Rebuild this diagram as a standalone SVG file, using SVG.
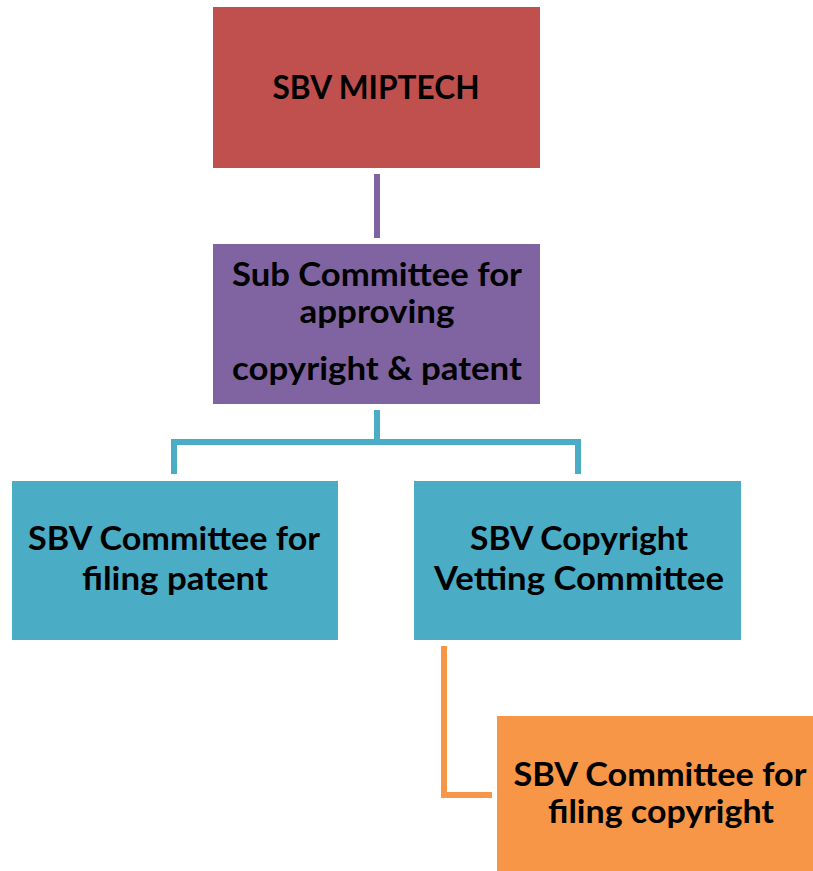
<svg xmlns="http://www.w3.org/2000/svg" width="813" height="871" viewBox="0 0 813 871">
<style>
text{font-family:Lato,"Liberation Sans",sans-serif;font-weight:bold;font-size:33px;fill:#000;text-anchor:middle}
.c{fill:none;stroke-width:6;stroke-linejoin:miter}
</style>
<rect width="813" height="871" fill="#fff"/>
<g id="connectors">
<line class="c" x1="377" y1="174" x2="377" y2="238" stroke="#8064A2"/>
<polyline class="c" points="377,410 377,442 174,442 174,474" stroke="#4BACC6"/>
<polyline class="c" points="377,442 578,442 578,474" stroke="#4BACC6"/>
<polyline class="c" points="444,646 444,795 492,795" stroke="#F79646"/>
</g>
<g id="n1">
<rect x="213" y="7" width="327" height="161" fill="#C0504D"/>
<text x="376" y="99" textLength="207" lengthAdjust="spacingAndGlyphs">SBV MIPTECH</text>
</g>
<g id="n2">
<rect x="213" y="244" width="327" height="160" fill="#8064A2"/>
<text x="377" y="286" textLength="290" lengthAdjust="spacingAndGlyphs">Sub Committee for</text>
<text x="377" y="323" textLength="155" lengthAdjust="spacingAndGlyphs">approving</text>
<text x="377" y="380" textLength="290" lengthAdjust="spacingAndGlyphs">copyright &amp; patent</text>
</g>
<g id="n3">
<rect x="12" y="481" width="326" height="159" fill="#4BACC6"/>
<text x="174" y="550" textLength="292" lengthAdjust="spacingAndGlyphs">SBV Committee for</text>
<text x="175" y="590" textLength="186" lengthAdjust="spacingAndGlyphs">filing patent</text>
</g>
<g id="n4">
<rect x="414" y="481" width="327" height="159" fill="#4BACC6"/>
<text x="579" y="550" textLength="218" lengthAdjust="spacingAndGlyphs">SBV Copyright</text>
<text x="579" y="590" textLength="290" lengthAdjust="spacingAndGlyphs">Vetting Committee</text>
</g>
<g id="n5">
<rect x="497" y="716" width="327" height="160" fill="#F79646"/>
<text x="660" y="786" textLength="293" lengthAdjust="spacingAndGlyphs">SBV Committee for</text>
<text x="661" y="823" textLength="226" lengthAdjust="spacingAndGlyphs">filing copyright</text>
</g>
</svg>
